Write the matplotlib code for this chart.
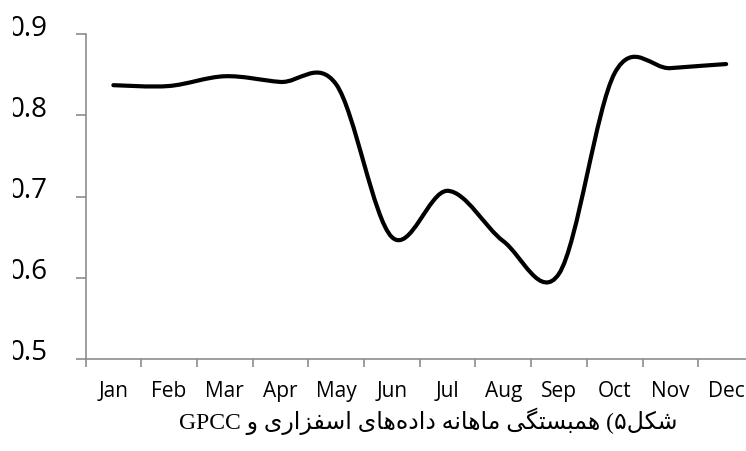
import numpy as np
import matplotlib
matplotlib.use("Agg")
import matplotlib.pyplot as plt
from matplotlib.path import Path
from matplotlib.patches import PathPatch
from matplotlib.transforms import ScaledTranslation, Bbox

# data
months = ['Jan', 'Feb', 'Mar', 'Apr', 'May', 'Jun', 'Jul', 'Aug', 'Sep', 'Oct', 'Nov', 'Dec']
corr = [0.837, 0.836, 0.848, 0.841, 0.838, 0.650, 0.707, 0.645, 0.605, 0.852, 0.858, 0.863]
yticks = [0.5, 0.6, 0.7, 0.8, 0.9]
ytick_labels = ['0.5', '0.6', '0.7', '0.8', '0.9']
caption_fa = 'شکل۵) همبستگی ماهانه داده‌های اسفزاری و '
caption_en = 'GPCC'

# presentation forms (iso, fin, init, med) - no shaping engine in matplotlib
FORMS = {
    'ا': ('\uFE8D', '\uFE8E'),
    'ب': ('\uFE8F', '\uFE90', '\uFE91', '\uFE92'),
    'ت': ('\uFE95', '\uFE96', '\uFE97', '\uFE98'),
    'د': ('\uFEA9', '\uFEAA'),
    'ر': ('\uFEAD', '\uFEAE'),
    'ز': ('\uFEAF', '\uFEB0'),
    'س': ('\uFEB1', '\uFEB2', '\uFEB3', '\uFEB4'),
    'ش': ('\uFEB5', '\uFEB6', '\uFEB7', '\uFEB8'),
    'ف': ('\uFED1', '\uFED2', '\uFED3', '\uFED4'),
    'ل': ('\uFEDD', '\uFEDE', '\uFEDF', '\uFEE0'),
    'م': ('\uFEE1', '\uFEE2', '\uFEE3', '\uFEE4'),
    'ن': ('\uFEE5', '\uFEE6', '\uFEE7', '\uFEE8'),
    'ه': ('\uFEE9', '\uFEEA', '\uFEEB', '\uFEEC'),
    'و': ('\uFEED', '\uFEEE'),
    'ک': ('\uFB8E', '\uFB8F', '\uFB90', '\uFB91'),
    'گ': ('\uFB92', '\uFB93', '\uFB94', '\uFB95'),
    'ی': ('\uFBFC', '\uFBFD', '\uFBFE', '\uFBFF'),
}


def shape(s):
    out = []
    for i, ch in enumerate(s):
        f = FORMS.get(ch)
        if f is None:
            if ch != '\u200c':
                out.append(ch)
            continue
        prev = s[i - 1] if i > 0 else ''
        nxt = s[i + 1] if i + 1 < len(s) else ''
        jp = prev in FORMS and len(FORMS[prev]) == 4
        jn = len(f) == 4 and nxt in FORMS
        if jp and jn:
            out.append(f[3])
        elif jp:
            out.append(f[1])
        elif jn:
            out.append(f[2])
        else:
            out.append(f[0])
    return ''.join(out)


mirror = str.maketrans('()', ')(')
caption = caption_en + shape(caption_fa)[::-1].translate(mirror)

W, H = 746, 451
fig = plt.figure(figsize=(W / 100, H / 100), dpi=100)
fig.patch.set_facecolor('white')
ax = fig.add_axes([85.5 / W, (H - 359) / H, (754 - 85.5) / W, (359 - 34) / H])

gray = '#8c8c8c'
x = np.arange(len(months))
y = np.array(corr)

# excel-like smoothed line: cubic bezier, catmull-rom control points
pts = np.column_stack([x, y])
ext = np.vstack([pts[0], pts, pts[-1]])
verts = [tuple(pts[0])]
codes = [Path.MOVETO]
for i in range(len(pts) - 1):
    p0, p1, p2, p3 = ext[i], ext[i + 1], ext[i + 2], ext[i + 3]
    c1 = p1 + (p2 - p0) / 6.0
    c2 = p2 - (p3 - p1) / 6.0
    verts += [tuple(c1), tuple(c2), tuple(p2)]
    codes += [Path.CURVE4] * 3
ax.add_patch(PathPatch(Path(verts, codes), fill=False, edgecolor='black',
                       lw=3.0, capstyle='round', joinstyle='round'))

ax.set_xlim(-0.5, 11.5)
ax.set_ylim(0.5, 0.9)
for s in ['top', 'right']:
    ax.spines[s].set_visible(False)
for s in ['left', 'bottom']:
    ax.spines[s].set_color(gray)
    ax.spines[s].set_linewidth(1.2)

ax.set_xticks(np.arange(-0.5, 12, 1))
ax.set_xticklabels([])
ax.set_xticks(x, minor=True)
ax.set_xticklabels(months, minor=True, fontsize=15, family='Open Sans')
ax.tick_params(axis='x', which='major', direction='out', length=5.5, width=1.2, color=gray)
ax.tick_params(axis='x', which='minor', length=0, pad=15.5)

ax.set_yticks(yticks)
ax.set_yticklabels(ytick_labels, fontsize=20, family='Open Sans')
ax.tick_params(axis='y', direction='out', length=7.2, width=1.2, color=gray, pad=20)
# the source chart is cut off on the left, so the leading zeros are partly hidden
off = ScaledTranslation(0, 9 / 100, fig.dpi_scale_trans)
clip = Bbox.from_extents(13, 0, W, H)
for lab in ax.get_yticklabels():
    lab.set_transform(lab.get_transform() + off)
    lab.set_clip_box(clip)
    lab.set_clip_on(True)

fig.text(428 / W, 1 - 421 / H, caption, ha='center', va='center', fontsize=17,
         family=['Liberation Serif', 'DejaVu Sans'])

fig.savefig('out.png', dpi=100)
